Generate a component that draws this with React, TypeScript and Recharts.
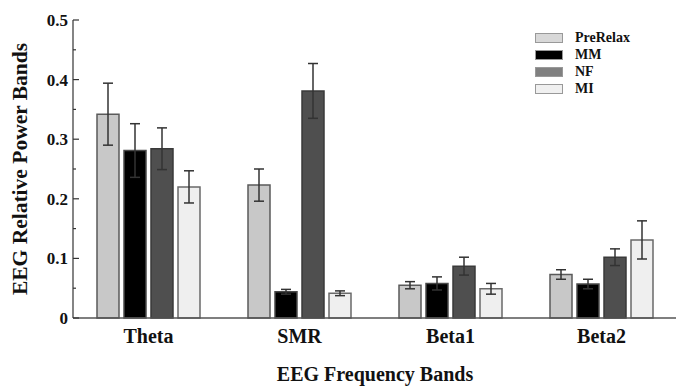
import { BarChart, Bar, XAxis, YAxis, ErrorBar, Label } from 'recharts';

const categories = ['Theta', 'SMR', 'Beta1', 'Beta2'];
const seriesNames = ['PreRelax', 'MM', 'NF', 'MI'];

const preRelax = [0.342, 0.223, 0.055, 0.073];
const preRelaxErr = [0.052, 0.027, 0.006, 0.008];
const mm = [0.281, 0.044, 0.058, 0.057];
const mmErr = [0.045, 0.004, 0.011, 0.008];
const nf = [0.284, 0.381, 0.087, 0.102];
const nfErr = [0.035, 0.046, 0.015, 0.014];
const mi = [0.22, 0.0415, 0.049, 0.131];
const miErr = [0.027, 0.004, 0.009, 0.032];

const yTicks = [0, 0.05, 0.1, 0.15, 0.2, 0.25, 0.3, 0.35, 0.4, 0.45, 0.5];
const yLabels = ['0', '', '0.1', '', '0.2', '', '0.3', '', '0.4', '', '0.5'];

const FONT = '"Liberation Serif", "Times New Roman", serif';
const AXIS_X = 73;

// fill / stroke per series (same order as seriesNames)
const barFill = ['#c8c8c8', '#000000', '#4f4f4f', '#efefef'];
const barStroke = ['#5a5a5a', '#4a4a4a', '#3a3a3a', '#6a6a6a'];
const legendFill = ['#d8d8d8', '#000000', '#808080', '#f0f0f0'];

const data = categories.map((c, i) => ({
    band: c,
    PreRelax: preRelax[i],
    PreRelaxErr: preRelaxErr[i],
    MM: mm[i],
    MMErr: mmErr[i],
    NF: nf[i],
    NFErr: nfErr[i],
    MI: mi[i],
    MIErr: miErr[i],
}));

const YTick = (props: any) => {
    const { y, payload, index } = props;
    const label = yLabels[index] ?? '';
    const major = label !== '';
    return (
        <g>
            <line x1={AXIS_X} x2={AXIS_X + (major ? 6 : 3)} y1={y} y2={y} stroke='#333' strokeWidth={1.2} />
            {major && (
                <text
                    x={AXIS_X - 5}
                    y={y}
                    dy='0.35em'
                    textAnchor='end'
                    fontFamily={FONT}
                    fontWeight='bold'
                    fontSize={17}
                    fill='#111'
                >
                    {label}
                </text>
            )}
            <title>{String(payload.value)}</title>
        </g>
    );
};

// legend drawn as plain html so it doesn't eat plot space
const LegendBox = () => (
    <div
        style={{
            position: 'absolute',
            top: 29,
            left: 535,
            fontFamily: FONT,
            fontWeight: 'bold',
            fontSize: 14,
            color: '#111',
        }}
    >
        {seriesNames.map((name, i) => (
            <div key={name} style={{ display: 'flex', alignItems: 'center', height: 17 }}>
                <span
                    style={{
                        display: 'inline-block',
                        width: 26,
                        height: 8,
                        background: legendFill[i],
                        border: '1px solid #999',
                        marginRight: 12,
                    }}
                />
                <span>{name}</span>
            </div>
        ))}
    </div>
);

export default function App() {
    return (
        <div style={{ width: 676, height: 388, background: '#fff', position: 'relative' }}>
            <style>{`body { margin: 0; }`}</style>
            <BarChart
                width={676}
                height={388}
                data={data}
                margin={{ top: 20, right: -1, left: 0, bottom: 0 }}
                barGap={5}
                barSize={22}
            >
                <XAxis
                    dataKey='band'
                    axisLine={{ stroke: '#555', strokeWidth: 1.5 }}
                    tickLine={false}
                    tickSize={0}
                    tickMargin={11}
                    height={70}
                    tick={{ fontSize: 20, fontWeight: 'bold', fill: '#111', fontFamily: FONT }}
                >
                    <Label
                        value='EEG Frequency Bands'
                        position='insideBottom'
                        offset={7}
                        style={{ fontSize: 20, fontWeight: 'bold', fill: '#111', fontFamily: FONT }}
                    />
                </XAxis>
                <YAxis
                    width={AXIS_X}
                    domain={[0, 0.5]}
                    ticks={yTicks}
                    interval={0}
                    axisLine={{ stroke: '#333', strokeWidth: 1.2 }}
                    tickLine={false}
                    tick={<YTick />}
                >
                    <Label
                        value='EEG Relative Power Bands'
                        angle={-90}
                        position='insideLeft'
                        offset={19}
                        style={{ textAnchor: 'middle', fontSize: 21.5, fontWeight: 'bold', fill: '#111', fontFamily: FONT }}
                    />
                </YAxis>
                {seriesNames.map((name, i) => (
                    <Bar
                        key={name}
                        dataKey={name}
                        name={name}
                        fill={barFill[i]}
                        stroke={barStroke[i]}
                        strokeWidth={1.5}
                        isAnimationActive={false}
                    >
                        <ErrorBar dataKey={`${name}Err`} width={5} stroke='#333' strokeWidth={1.5} isAnimationActive={false} />
                    </Bar>
                ))}
            </BarChart>
            <LegendBox />
        </div>
    );
}
